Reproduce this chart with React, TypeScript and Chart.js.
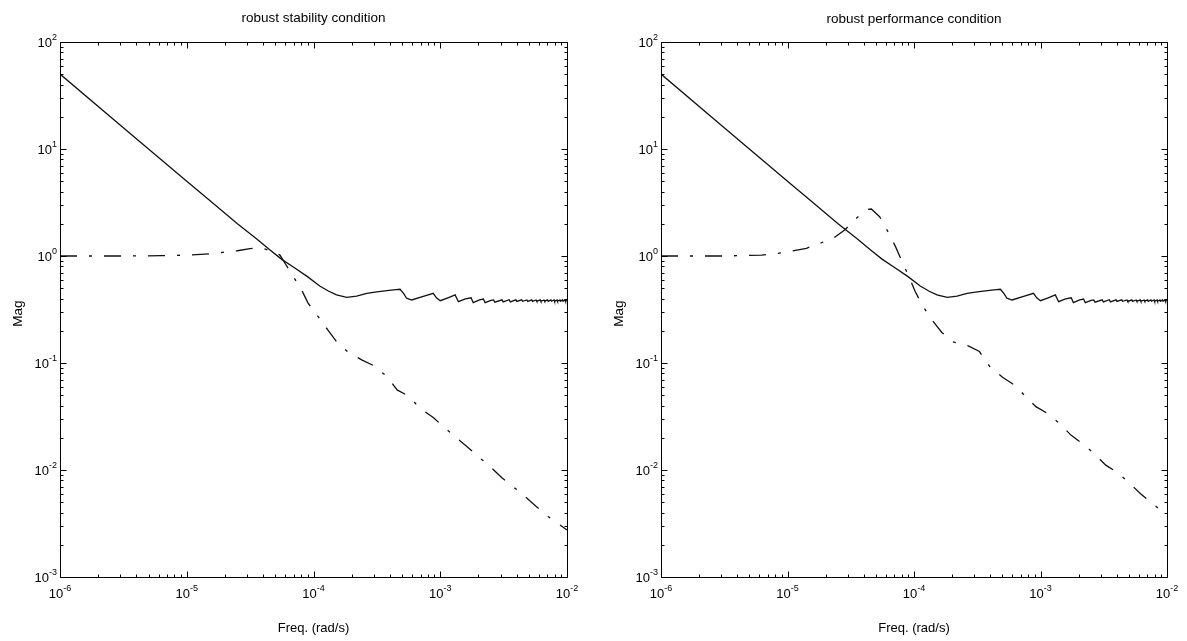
import React, { useEffect, useRef } from "react";
import { Chart, registerables } from "chart.js";

Chart.register(...registerables);

// ---- data ----
const titles = ["robust stability condition", "robust performance condition"];
const xAxisTitle = "Freq. (rad/s)";
const yAxisTitle = "Mag";
const xTickExponents = [-6, -5, -4, -3, -2];
const yTickExponents = [-3, -2, -1, 0, 1, 2];

// solid curve (same in both panels)
const freqSolid = [
  1e-6, 3.16e-6, 1e-5, 1.52e-5, 2.51e-5, 3.55e-5, 4.54e-5, 5.62e-5, 6.93e-5, 8.91e-5,
  1.12e-4, 1.32e-4, 1.52e-4, 1.83e-4, 2.19e-4, 2.63e-4, 3.16e-4, 3.8e-4, 4.47e-4, 4.82e-4,
  5.13e-4, 5.43e-4, 5.96e-4, 7.24e-4, 8.81e-4, 9.33e-4, 1.0e-3, 1.15e-3, 1.31e-3, 1.39e-3,
  1.58e-3, 1.75e-3, 1.82e-3, 2.04e-3, 2.19e-3, 2.26e-3, 2.51e-3, 2.63e-3, 2.7e-3, 3.07e-3,
  3.14e-3, 3.5e-3, 3.57e-3, 3.95e-3, 4.02e-3, 4.39e-3, 4.46e-3, 4.83e-3, 4.9e-3, 5.27e-3,
  5.34e-3, 5.71e-3, 5.78e-3, 6.15e-3, 6.22e-3, 6.59e-3, 6.66e-3, 7.03e-3, 7.1e-3, 7.47e-3,
  7.54e-3, 7.91e-3, 7.98e-3, 8.35e-3, 8.42e-3, 8.79e-3, 8.86e-3, 9.23e-3, 9.3e-3, 9.67e-3,
  9.74e-3, 1e-2,
];
const magSolid = [
  50.1, 15.8, 5.0, 3.31, 2.0, 1.45, 1.14, 0.93, 0.79, 0.645,
  0.525, 0.468, 0.433, 0.411, 0.422, 0.448, 0.462, 0.474, 0.484, 0.489,
  0.447, 0.403, 0.388, 0.417, 0.448, 0.407, 0.382, 0.407, 0.433, 0.374,
  0.398, 0.407, 0.366, 0.389, 0.396, 0.366, 0.385, 0.389, 0.37, 0.389,
  0.372, 0.39, 0.373, 0.389, 0.376, 0.389, 0.377, 0.388, 0.376, 0.389,
  0.377, 0.388, 0.377, 0.389, 0.377, 0.388, 0.378, 0.389, 0.377, 0.388,
  0.378, 0.389, 0.377, 0.388, 0.378, 0.388, 0.377, 0.389, 0.378, 0.388,
  0.378, 0.383,
];

// dash-dot curve, robust stability panel
const freqStability = [
  1e-6, 3.16e-6, 6.31e-6, 1e-5, 1.52e-5, 2.0e-5, 2.51e-5, 3.16e-5, 3.58e-5, 4.17e-5,
  5.01e-5, 5.44e-5, 5.96e-5, 6.73e-5, 8.07e-5, 9.06e-5, 1.09e-4, 1.3e-4, 1.52e-4, 1.88e-4,
  2.4e-4, 3.05e-4, 3.8e-4, 4.57e-4, 5.62e-4, 6.92e-4, 8.81e-4, 1.06e-3, 1.31e-3, 1.62e-3,
  2.0e-3, 2.45e-3, 3.05e-3, 3.77e-3, 4.68e-3, 5.75e-3, 7.13e-3, 8.81e-3, 1e-2,
];
const magStability = [
  1.0, 1.0, 1.007, 1.02, 1.047, 1.087, 1.12, 1.17, 1.19, 1.16,
  1.07, 1.02, 0.855, 0.68, 0.48, 0.363, 0.271, 0.203, 0.158, 0.126,
  0.107, 0.0933, 0.0745, 0.056, 0.049, 0.0378, 0.031, 0.0254, 0.0204, 0.0166,
  0.0133, 0.0109, 0.0085, 0.00698, 0.00562, 0.00454, 0.00366, 0.00306, 0.00275,
];

// dash-dot curve, robust performance panel
const freqPerformance = [
  1e-6, 3.16e-6, 6.24e-6, 8.43e-6, 1.07e-5, 1.41e-5, 1.85e-5, 2.29e-5, 2.83e-5, 3.61e-5,
  4.34e-5, 4.6e-5, 5.35e-5, 6.22e-5, 7.13e-5, 7.94e-5, 9.12e-5, 1.02e-4, 1.16e-4, 1.39e-4,
  1.66e-4, 2.03e-4, 2.66e-4, 3.29e-4, 3.94e-4, 5.01e-4, 6.21e-4, 7.45e-4, 9.2e-4, 1.13e-3,
  1.41e-3, 1.74e-3, 2.12e-3, 2.65e-3, 3.28e-3, 4.06e-3, 5.01e-3, 6.21e-3, 7.66e-3, 1e-2,
];
const magPerformance = [
  1.0, 1.0, 1.02, 1.06, 1.11, 1.18, 1.33, 1.46, 1.75, 2.33,
  2.73, 2.75, 2.33, 1.69, 1.23, 0.918, 0.641, 0.468, 0.348, 0.252,
  0.193, 0.158, 0.145, 0.128, 0.0938, 0.0735, 0.0622, 0.0501, 0.0391, 0.0339,
  0.0273, 0.0212, 0.0178, 0.0143, 0.0111, 0.00944, 0.00762, 0.00597, 0.00489, 0.00372,
];

// ---- drawing helpers ----
const FONT = '"Liberation Sans", Arial, Helvetica, sans-serif';

function drawPow(ctx: CanvasRenderingContext2D, exp: number, x: number, baseY: number, align: "center" | "right") {
  ctx.font = `13px ${FONT}`;
  const w10 = ctx.measureText("10").width;
  ctx.font = `9px ${FONT}`;
  const es = String(exp);
  const we = ctx.measureText(es).width;
  const total = w10 + we;
  const start = align === "center" ? x - total / 2 : x - total;
  ctx.textAlign = "left";
  ctx.textBaseline = "alphabetic";
  ctx.font = `13px ${FONT}`;
  ctx.fillText("10", start, baseY);
  ctx.font = `9px ${FONT}`;
  ctx.fillText(es, start + w10, baseY - 7);
}

const matlabAxes = {
  id: "matlabAxes",
  afterDatasetsDraw(chart: any, _args: any, opts: any) {
    const { ctx, chartArea: a, scales } = chart;
    const xs = scales.x;
    const ys = scales.y;
    ctx.save();
    ctx.strokeStyle = "#000";
    ctx.fillStyle = "#000";
    ctx.lineWidth = 1;
    const L = Math.round(a.left) + 0.5;
    const R = Math.round(a.right) + 0.5;
    const T = Math.round(a.top) + 0.5;
    const B = Math.round(a.bottom) + 0.5;
    ctx.beginPath();
    ctx.rect(L, T, R - L, B - T);
    ctx.stroke();

    const major = 6;
    const minor = 3;
    ctx.beginPath();
    for (let i = 0; i < xTickExponents.length; i++) {
      const e = xTickExponents[i];
      const px = Math.round(xs.getPixelForValue(Math.pow(10, e))) + 0.5;
      ctx.moveTo(px, B); ctx.lineTo(px, B - major);
      ctx.moveTo(px, T); ctx.lineTo(px, T + major);
      if (i < xTickExponents.length - 1) {
        for (let k = 2; k <= 9; k++) {
          const mx = Math.round(xs.getPixelForValue(k * Math.pow(10, e))) + 0.5;
          ctx.moveTo(mx, B); ctx.lineTo(mx, B - minor);
          ctx.moveTo(mx, T); ctx.lineTo(mx, T + minor);
        }
      }
    }
    for (let i = 0; i < yTickExponents.length; i++) {
      const e = yTickExponents[i];
      const py = Math.round(ys.getPixelForValue(Math.pow(10, e))) + 0.5;
      ctx.moveTo(L, py); ctx.lineTo(L + major, py);
      ctx.moveTo(R, py); ctx.lineTo(R - major, py);
      if (i < yTickExponents.length - 1) {
        for (let k = 2; k <= 9; k++) {
          const my = Math.round(ys.getPixelForValue(k * Math.pow(10, e))) + 0.5;
          ctx.moveTo(L, my); ctx.lineTo(L + minor, my);
          ctx.moveTo(R, my); ctx.lineTo(R - minor, my);
        }
      }
    }
    ctx.stroke();

    for (const e of xTickExponents) {
      const px = xs.getPixelForValue(Math.pow(10, e));
      drawPow(ctx, e, px, a.bottom + 21, "center");
    }
    for (const e of yTickExponents) {
      const py = ys.getPixelForValue(Math.pow(10, e));
      drawPow(ctx, e, a.left - 3, py + 5, "right");
    }

    const cx = (a.left + a.right) / 2;
    ctx.textAlign = "center";
    ctx.textBaseline = "alphabetic";
    ctx.font = `13.5px ${FONT}`;
    ctx.fillText(opts.title, cx, opts.titleY);
    ctx.font = `13px ${FONT}`;
    ctx.fillText(xAxisTitle, cx, 632);

    ctx.save();
    ctx.translate(a.left - 38, (a.top + a.bottom) / 2 + 4);
    ctx.rotate(-Math.PI / 2);
    ctx.textAlign = "center";
    ctx.font = `13.5px ${FONT}`;
    ctx.fillText(yAxisTitle, 0, 0);
    ctx.restore();

    ctx.restore();
  },
};

function makeConfig(title: string, titleY: number, dashFreq: number[], dashMag: number[], yWidth: number, padRight: number) {
  return {
    type: "line" as const,
    data: {
      datasets: [
        {
          label: "solid",
          data: freqSolid.map((f, i) => ({ x: f, y: magSolid[i] })),
          borderColor: "#111",
          borderWidth: 1.3,
          pointRadius: 0,
          tension: 0,
          fill: false,
        },
        {
          label: "dashdot",
          data: dashFreq.map((f, i) => ({ x: f, y: dashMag[i] })),
          borderColor: "#111",
          borderWidth: 1.3,
          borderDash: [17, 12, 3, 12],
          pointRadius: 0,
          tension: 0,
          fill: false,
        },
      ],
    },
    options: {
      animation: false as const,
      responsive: false,
      maintainAspectRatio: false,
      devicePixelRatio: 1,
      events: [],
      layout: { padding: { top: 42, left: 0, right: padRight, bottom: 0 } },
      plugins: {
        legend: { display: false },
        tooltip: { enabled: false },
        title: { display: false },
        matlabAxes: { title, titleY },
      },
      scales: {
        x: {
          type: "logarithmic" as const,
          min: 1e-6,
          max: 1e-2,
          offset: false,
          grid: { display: false },
          border: { display: false },
          ticks: { display: false },
          afterFit: (s: any) => { s.height = 64; },
        },
        y: {
          type: "logarithmic" as const,
          min: 1e-3,
          max: 1e2,
          grid: { display: false },
          border: { display: false },
          ticks: { display: false },
          afterFit: (s: any) => { s.width = yWidth; },
        },
      },
    },
    plugins: [matlabAxes],
  };
}

export default function App() {
  const leftRef = useRef<HTMLCanvasElement>(null);
  const rightRef = useRef<HTMLCanvasElement>(null);

  useEffect(() => {
    const c1 = new Chart(leftRef.current!, makeConfig(titles[0], 22, freqStability, magStability, 60, 26) as any);
    const c2 = new Chart(rightRef.current!, makeConfig(titles[1], 23, freqPerformance, magPerformance, 68, 20) as any);
    return () => {
      c1.destroy();
      c2.destroy();
    };
  }, []);

  return (
    <div style={{ position: "absolute", left: 0, top: 0, width: 1187, height: 641, background: "#fff", overflow: "hidden" }}>
      <canvas ref={leftRef} width={593} height={641} style={{ position: "absolute", left: 0, top: 0, width: 593, height: 641 }} />
      <canvas ref={rightRef} width={594} height={641} style={{ position: "absolute", left: 593, top: 0, width: 594, height: 641 }} />
    </div>
  );
}
